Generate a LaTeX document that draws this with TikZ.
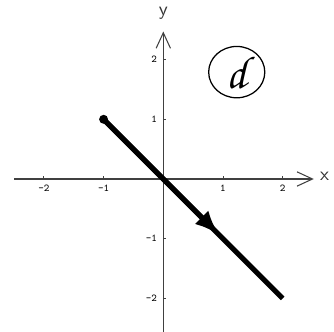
\documentclass[tikz,border=0pt]{standalone}
\usepackage[T1,TU]{fontenc}
\usepackage{tikz}
\usetikzlibrary{shapes.geometric,arrows.meta,positioning}

\begin{document}
\begin{tikzpicture}[
  axis/.style={draw=black!75, line width=0.5pt},
  axarr/.style={axis, -{Straight Barb[length=0.26cm, width=0.24cm, line width=0.5pt]}},
  tick/.style={draw=black!75, line width=0.4pt},
  ticklab/.style={inner sep=0pt, font=\ttfamily\fontsize{5}{6}\selectfont},
  axlab/.style={inner sep=0pt, font=\sffamily\small, text=black!80},
  vec/.style={line width=2.4pt},
  tipvec/.style={vec, -{Latex[length=0.42cm, width=0.32cm]}},
  tag/.style={ellipse, draw, line width=0.6pt, minimum width=0.94cm, minimum height=0.86cm, inner sep=0pt}
]
\useasboundingbox (-2.735,-2.546) rectangle (2.859,2.998);

% axes
\coordinate (xl) at (-2.5,0);
\coordinate (xr) at (2.52,0);
\coordinate (yb) at (0,-2.6);
\coordinate (yt) at (0,2.47);
\draw[axarr] (xl) -- (xr);
\draw[axarr] (yb) -- (yt);
\node[axlab] (xlab) at (2.7,0.04) {x};
\node[axlab] (ylab) at (0,2.77) {y};

% ticks and their labels
\foreach \i in {-2,-1,1,2} {
  \draw[tick] (\i,0) -- ++(0,0.05);
  \draw[tick] (0,\i) -- ++(0.05,0);
  \node[ticklab] (tx\i) at (\i,-0.15) {\i};
  \node[ticklab, anchor=east] (ty\i) at (-0.1,\i) {\i};
}

% the vector
\coordinate (start) at (-1,1);
\coordinate (tip) at (0.94,-0.94);
\coordinate (end) at (2,-2);
\draw[vec] (start) -- (end);
\draw[tipvec] (start) -- (tip);
\fill (start) circle (0.075);

% circled letter
\node[tag] (mark) at (1.23,1.79) {\fontencoding{T1}\fontfamily{pzc}\fontsize{22}{24}\selectfont d};
\end{tikzpicture}
\end{document}
